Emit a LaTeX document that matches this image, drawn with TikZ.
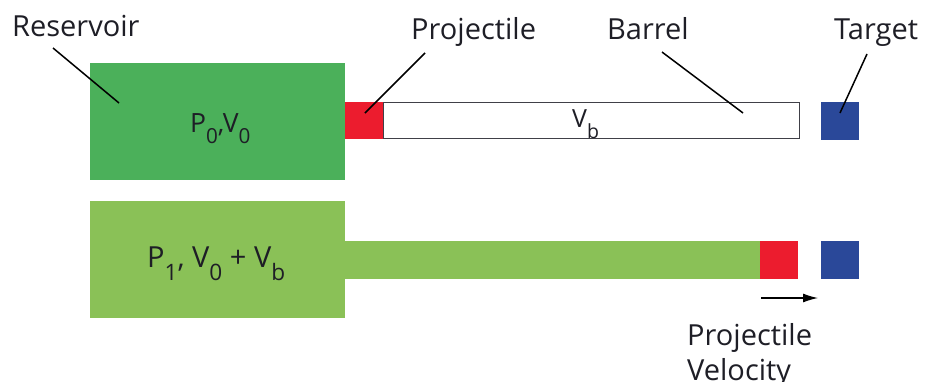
\documentclass[tikz,border=0pt]{standalone}
\usepackage{fontspec}
\setmainfont{Open Sans}
\usetikzlibrary{arrows.meta}

\definecolor{resgreen}{RGB}{75,176,90}
\definecolor{gasgreen}{RGB}{138,193,87}
\definecolor{projred}{RGB}{236,28,46}
\definecolor{targblue}{RGB}{42,72,153}
\definecolor{inkdark}{RGB}{30,30,38}

% subscript set in the same sans face, lowered below the baseline
\newcommand{\lsub}[1]{\raisebox{-0.45em}{\scalebox{0.78}{#1}}}

\begin{document}
\begin{tikzpicture}[x=1pt,y=-1pt,
  block/.style={inner sep=0pt, outer sep=0pt, anchor=north west, draw=none},
  caption/.style={inner sep=0pt, anchor=base west, text=inkdark, font=\fontsize{29}{35}\selectfont},
  inlabel/.style={inner sep=0pt, anchor=base west, text=inkdark},
  leader/.style={line width=1.5pt, black},
]
\useasboundingbox (0,0) rectangle (927,381);

% ---- initial state: reservoir, projectile at breech, empty barrel, target
\node[block, fill=resgreen, minimum width=255pt, minimum height=117pt] (res0) at (90,63) {};
\node[block, fill=projred, minimum width=38pt, minimum height=37pt] (proj0) at (345,102) {};
\node[block, draw=inkdark!85, line width=1.3pt, fill=white, minimum width=416pt, minimum height=36pt] (barrel) at (383.5,102.5) {};
\node[block, fill=targblue, minimum width=38pt, minimum height=38pt] (targ0) at (821,102) {};

\node[inlabel, font=\fontsize{26.5}{31}\selectfont] (p0v0) at (190,132) {P\lsub{0},V\lsub{0}};
\node[inlabel, font=\fontsize{25}{30}\selectfont] (vb) at (572,127) {V\lsub{b}};

% ---- final state: expanded gas pushes the projectile to the muzzle
\node[block, fill=gasgreen, minimum width=255pt, minimum height=117pt] (res1) at (90,201) {};
\node[block, fill=gasgreen, minimum width=416pt, minimum height=38pt] (gas) at (344.5,241) {};
\node[block, fill=projred, minimum width=38pt, minimum height=38pt] (proj1) at (760,241) {};
\node[block, fill=targblue, minimum width=38pt, minimum height=38pt] (targ1) at (821,241) {};

\node[inlabel, font=\fontsize{29}{35}\selectfont] (p1v) at (147,267) {P\lsub{1}, V\lsub{0} + V\lsub{b}};

% ---- captions
\node[caption] (cres) at (12,36) {Reservoir};
\node[caption] (cproj) at (411,39) {Projectile};
\node[caption] (cbar) at (607,39) {Barrel};
\node[caption] (ctarg) at (834,39) {Target};
\node[caption] (cvelA) at (687,345) {Projectile};
\node[caption] (cvelB) at (687,380) {Velocity};

% ---- leader lines
\coordinate (lres) at (53,48);   \coordinate (eres) at (119,103);
\coordinate (lproj) at (425,53); \coordinate (eproj) at (365,113);
\coordinate (lbar) at (662,52);  \coordinate (ebar) at (743,113);
\coordinate (ltarg) at (867,54); \coordinate (etarg) at (840,113);
\draw[leader] (lres) -- (eres);
\draw[leader] (lproj) -- (eproj);
\draw[leader] (lbar) -- (ebar);
\draw[leader] (ltarg) -- (etarg);

% ---- velocity arrow
\coordinate (va) at (761,298);
\coordinate (vb2) at (818,298);
\draw[line width=1.2pt, -{Latex[length=15pt,width=9pt]}] (va) -- (vb2);
\end{tikzpicture}
\end{document}
